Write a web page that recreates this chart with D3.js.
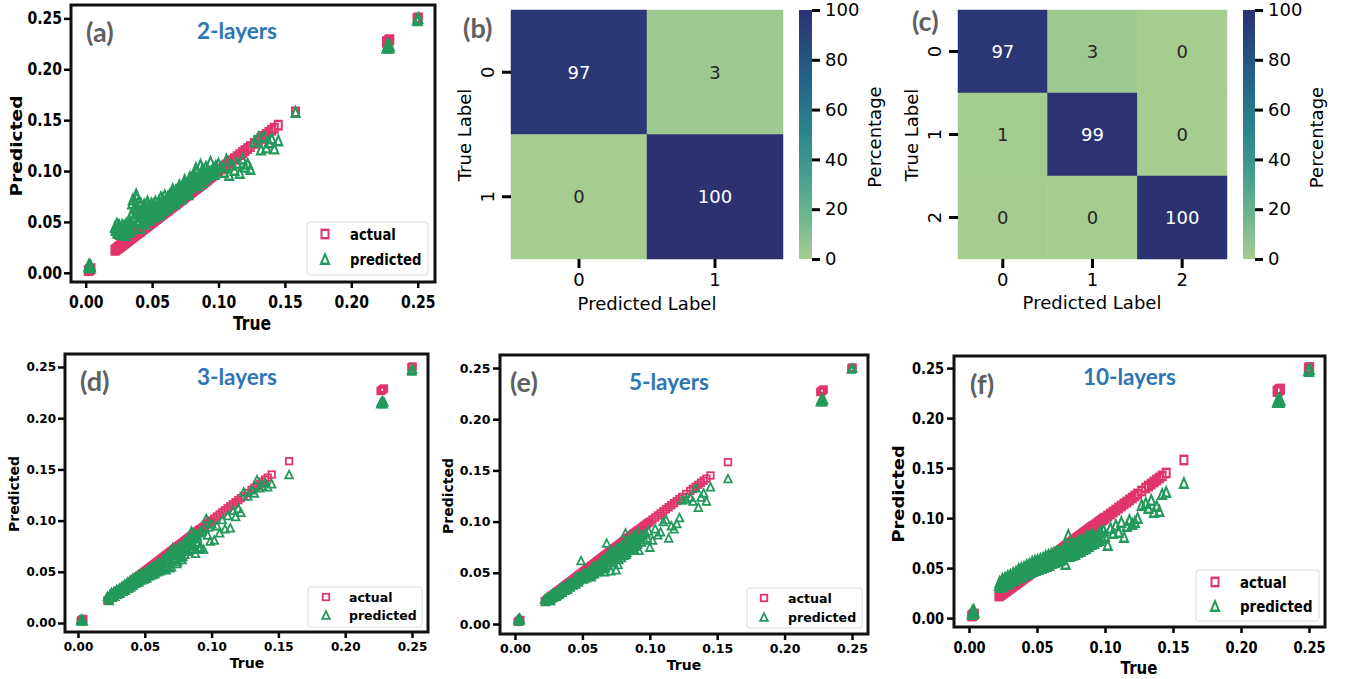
<!DOCTYPE html>
<html>
<head>
<meta charset="utf-8">
<script src="https://cdn.jsdelivr.net/npm/d3@7"></script>
<style>
body { margin: 0; background: #fff; }
svg text { font-family: "DejaVu Sans", sans-serif; }
</style>
</head>
<body>
<script>
// valeurs (True = actual)
const trueVals = [
    0.002, 0.0025, 0.003, 0.0035, 0.004,
    0.022, 0.024, 0.025, 0.026, 0.027, 0.028, 0.029, 0.030, 0.031, 0.032,
    0.033, 0.034, 0.035, 0.036, 0.037, 0.038, 0.039, 0.040, 0.041, 0.042,
    0.043, 0.044, 0.045, 0.046, 0.047, 0.048, 0.049, 0.050, 0.051, 0.052,
    0.053, 0.054, 0.055, 0.056, 0.057, 0.058, 0.059, 0.060, 0.061, 0.062,
    0.063, 0.064, 0.065, 0.066, 0.067, 0.068, 0.069, 0.070, 0.071, 0.072,
    0.073, 0.074, 0.075, 0.076, 0.077, 0.078, 0.079, 0.080, 0.081, 0.082,
    0.083, 0.084, 0.085, 0.086, 0.087, 0.088, 0.089, 0.090, 0.091, 0.092,
    0.093, 0.094, 0.095, 0.096, 0.097, 0.098, 0.099, 0.100,
    0.102, 0.104, 0.106, 0.108, 0.110, 0.112, 0.114, 0.116, 0.118, 0.120,
    0.122, 0.124, 0.127, 0.130, 0.132, 0.134, 0.136, 0.138, 0.140, 0.142, 0.145,
    0.158, 0.2265, 0.227, 0.2275, 0.228, 0.2285, 0.229, 0.2495, 0.250, 0.2505
]
// deuxième série d'échantillons dans la zone dense
const trueVals2 = [
    0.0225, 0.0235, 0.0245, 0.0255, 0.0265, 0.0275, 0.0285, 0.0295, 0.0305, 0.0315,
    0.0325, 0.0335, 0.0345, 0.0355, 0.0365, 0.0375, 0.0385, 0.0395, 0.0405, 0.0415,
    0.0425, 0.0435, 0.0445, 0.0455, 0.0465, 0.0475, 0.0485, 0.0495, 0.0505, 0.0515,
    0.0525, 0.0535, 0.0545, 0.0555, 0.0565, 0.0575, 0.0585, 0.0595, 0.0605, 0.0615,
    0.0625, 0.0635, 0.0645, 0.0655, 0.0665, 0.0675, 0.0685, 0.0695, 0.0705, 0.0715,
    0.0725, 0.0735, 0.0745, 0.0755, 0.0765, 0.0775, 0.0785, 0.0795, 0.0805, 0.0815,
    0.0825, 0.0835, 0.0845, 0.0855, 0.0865, 0.0875, 0.0885, 0.0895, 0.0905, 0.0915
]

// prédictions 2 couches
const predA = [
    0.006, 0.008, 0.005, 0.007, 0.006,
    0.045, 0.040, 0.047, 0.038, 0.043, 0.040, 0.046, 0.037, 0.044, 0.040,
    0.047, 0.041, 0.068, 0.045, 0.063, 0.077, 0.050, 0.070, 0.044, 0.062,
    0.055, 0.067, 0.048, 0.060, 0.066, 0.053, 0.063, 0.058, 0.067, 0.055,
    0.065, 0.060, 0.070, 0.058, 0.066, 0.073, 0.062, 0.070, 0.065, 0.075,
    0.067, 0.072, 0.078, 0.069, 0.076, 0.081, 0.072, 0.079, 0.084, 0.076,
    0.082, 0.088, 0.079, 0.086, 0.082, 0.090, 0.084, 0.088, 0.093, 0.086,
    0.103, 0.091, 0.089, 0.095, 0.092, 0.102, 0.093, 0.097, 0.094, 0.100,
    0.096, 0.109, 0.099, 0.103, 0.097, 0.105, 0.100, 0.107,
    0.104, 0.099, 0.111, 0.096, 0.106, 0.101, 0.108, 0.098, 0.112, 0.104,
    0.107, 0.102, 0.129, 0.133, 0.121, 0.134, 0.123, 0.128, 0.132, 0.122, 0.130,
    0.158, 0.221, 0.223, 0.222, 0.224, 0.221, 0.223, 0.249, 0.248, 0.250
]
const predA2 = [
    0.042, 0.048, 0.039, 0.045, 0.041, 0.047, 0.039, 0.044, 0.048, 0.042,
    0.044, 0.050, 0.058, 0.072, 0.055, 0.066, 0.074, 0.060, 0.052, 0.068,
    0.060, 0.050, 0.064, 0.056, 0.070, 0.059, 0.052, 0.068, 0.061, 0.064,
    0.070, 0.063, 0.057, 0.068, 0.074, 0.061, 0.067, 0.076, 0.069, 0.072,
    0.064, 0.077, 0.071, 0.082, 0.073, 0.068, 0.080, 0.075, 0.086, 0.078,
    0.073, 0.085, 0.091, 0.080, 0.088, 0.077, 0.094, 0.084, 0.087, 0.097,
    0.091, 0.100, 0.086, 0.094, 0.106, 0.089, 0.098, 0.092, 0.104, 0.096
]

// prédictions 3 couches
const predD = [
    0.003, 0.002, 0.004, 0.003, 0.002,
    0.026, 0.028, 0.030, 0.027, 0.031, 0.029, 0.033, 0.030, 0.034, 0.031,
    0.036, 0.033, 0.038, 0.034, 0.040, 0.036, 0.042, 0.037, 0.044, 0.039,
    0.045, 0.041, 0.047, 0.042, 0.048, 0.044, 0.049, 0.045, 0.051, 0.046,
    0.052, 0.048, 0.054, 0.049, 0.055, 0.050, 0.057, 0.051, 0.058, 0.053,
    0.060, 0.055, 0.062, 0.052, 0.064, 0.058, 0.066, 0.055, 0.074, 0.062,
    0.068, 0.058, 0.070, 0.064, 0.072, 0.062, 0.074, 0.067, 0.077, 0.070,
    0.082, 0.072, 0.090, 0.075, 0.083, 0.068, 0.086, 0.078, 0.088, 0.074,
    0.090, 0.072, 0.093, 0.102, 0.086, 0.094, 0.080, 0.097,
    0.081, 0.095, 0.088, 0.101, 0.092, 0.105, 0.093, 0.110, 0.104, 0.112,
    0.108, 0.128, 0.124, 0.130, 0.127, 0.140, 0.132, 0.134, 0.137, 0.133, 0.136,
    0.145, 0.214, 0.216, 0.215, 0.217, 0.214, 0.216, 0.247, 0.246, 0.248
]
const predD2 = [
    0.024, 0.022, 0.027, 0.025, 0.029, 0.026, 0.031, 0.028, 0.032, 0.029,
    0.034, 0.031, 0.036, 0.032, 0.038, 0.034, 0.040, 0.035, 0.042, 0.037,
    0.043, 0.039, 0.045, 0.040, 0.046, 0.042, 0.047, 0.043, 0.049, 0.044,
    0.050, 0.046, 0.053, 0.047, 0.056, 0.048, 0.057, 0.050, 0.059, 0.051,
    0.057, 0.062, 0.053, 0.064, 0.056, 0.067, 0.054, 0.069, 0.060, 0.071,
    0.063, 0.072, 0.060, 0.075, 0.066, 0.076, 0.065, 0.079, 0.071, 0.080,
    0.070, 0.081, 0.076, 0.084, 0.072, 0.087, 0.079, 0.083, 0.073, 0.089
]

// prédictions 5 couches
const predE = [
    0.004, 0.005, 0.003, 0.006, 0.004,
    0.024, 0.026, 0.023, 0.028, 0.025, 0.030, 0.027, 0.031, 0.028, 0.033,
    0.030, 0.035, 0.031, 0.037, 0.033, 0.038, 0.034, 0.040, 0.036, 0.041,
    0.038, 0.043, 0.039, 0.045, 0.041, 0.046, 0.062, 0.048, 0.044, 0.049,
    0.045, 0.051, 0.047, 0.052, 0.048, 0.054, 0.049, 0.055, 0.051, 0.057,
    0.052, 0.059, 0.054, 0.060, 0.055, 0.079, 0.057, 0.064, 0.052, 0.066,
    0.060, 0.068, 0.053, 0.069, 0.063, 0.071, 0.065, 0.073, 0.067, 0.089,
    0.070, 0.077, 0.072, 0.079, 0.074, 0.081, 0.076, 0.083, 0.078, 0.072,
    0.085, 0.080, 0.087, 0.082, 0.089, 0.084, 0.091, 0.075,
    0.082, 0.093, 0.087, 0.090, 0.100, 0.102, 0.084, 0.096, 0.093, 0.098,
    0.104, 0.121, 0.122, 0.124, 0.120, 0.133, 0.114, 0.124, 0.128, 0.120, 0.134,
    0.142, 0.217, 0.219, 0.218, 0.220, 0.217, 0.219, 0.249, 0.250, 0.250
]
const predE2 = [
    0.022, 0.025, 0.024, 0.026, 0.023, 0.028, 0.026, 0.029, 0.027, 0.031,
    0.029, 0.033, 0.032, 0.035, 0.033, 0.036, 0.035, 0.038, 0.037, 0.039,
    0.040, 0.041, 0.044, 0.042, 0.047, 0.043, 0.046, 0.045, 0.050, 0.046,
    0.047, 0.050, 0.049, 0.053, 0.046, 0.055, 0.050, 0.057, 0.053, 0.058,
    0.054, 0.061, 0.056, 0.063, 0.051, 0.066, 0.058, 0.068, 0.060, 0.070,
    0.062, 0.072, 0.064, 0.074, 0.058, 0.075, 0.068, 0.078, 0.070, 0.080,
    0.068, 0.080, 0.074, 0.082, 0.078, 0.086, 0.073, 0.088, 0.080, 0.090
]

// prédictions 10 couches
const predF = [
    0.005, 0.007, 0.004, 0.008, 0.006,
    0.033, 0.036, 0.032, 0.038, 0.034, 0.039, 0.035, 0.041, 0.037, 0.042,
    0.038, 0.044, 0.040, 0.045, 0.041, 0.047, 0.042, 0.048, 0.044, 0.049,
    0.045, 0.051, 0.046, 0.052, 0.047, 0.053, 0.048, 0.055, 0.049, 0.056,
    0.050, 0.057, 0.051, 0.058, 0.052, 0.059, 0.053, 0.060, 0.055, 0.061,
    0.056, 0.062, 0.057, 0.063, 0.058, 0.064, 0.059, 0.066, 0.054, 0.067,
    0.083, 0.062, 0.068, 0.063, 0.070, 0.064, 0.071, 0.066, 0.073, 0.067,
    0.074, 0.069, 0.076, 0.070, 0.077, 0.072, 0.079, 0.074, 0.081, 0.075,
    0.082, 0.077, 0.084, 0.078, 0.086, 0.080, 0.088, 0.082,
    0.073, 0.090, 0.085, 0.093, 0.086, 0.096, 0.081, 0.092, 0.098, 0.094,
    0.096, 0.100, 0.113, 0.115, 0.110, 0.118, 0.106, 0.112, 0.107, 0.124, 0.126,
    0.135, 0.216, 0.218, 0.217, 0.219, 0.216, 0.218, 0.248, 0.247, 0.249
]
const predF2 = [
    0.036, 0.031, 0.039, 0.034, 0.040, 0.036, 0.042, 0.037, 0.043, 0.039,
    0.045, 0.041, 0.046, 0.043, 0.049, 0.044, 0.050, 0.045, 0.051, 0.047,
    0.053, 0.048, 0.054, 0.049, 0.056, 0.050, 0.057, 0.052, 0.058, 0.053,
    0.059, 0.054, 0.060, 0.055, 0.062, 0.056, 0.063, 0.057, 0.064, 0.058,
    0.065, 0.060, 0.066, 0.061, 0.067, 0.062, 0.068, 0.063, 0.070, 0.064,
    0.071, 0.066, 0.072, 0.067, 0.074, 0.068, 0.075, 0.070, 0.076, 0.071,
    0.078, 0.072, 0.079, 0.074, 0.081, 0.075, 0.082, 0.077, 0.084, 0.078
]

const axisTicks = [0, 0.05, 0.10, 0.15, 0.20, 0.25]

// matrices de confusion (%)
const labels2 = ['0', '1']
const labels3 = ['0', '1', '2']
const cmB = [[97, 3], [0, 100]]
const cmC = [[97, 3, 0], [1, 99, 0], [0, 0, 100]]
const cbTicks = [0, 20, 40, 60, 80, 100]

// palette "crest"
const crest = ['#a5cd90', '#57ab8f', '#2a878c', '#235e85', '#2c3172']

const RED = '#e0356b'
const GREEN = '#23995a'
const GRAY = '#606060'
const BLUE = '#2e75b6'

const W = 1346, H = 679
const svg = d3.select('body').append('svg')
    .attr('width', W)
    .attr('height', H)
svg.append('rect').attr('width', W).attr('height', H).attr('fill', '#fff')
const defs = svg.append('defs')

const triangle = (cx, cy, h) => `M${cx},${cy - h}L${cx + h},${cy + h}L${cx - h},${cy + h}Z`
const allTrue = trueVals.concat(trueVals2)

// Graphe nuage de points (les panneaux a et f sont étirés verticalement)
function scatterPanel(c, pred) {
    const top = c.frame.t
    const Y = v => (v - top) / c.sy
    const g = svg.append('g').attr('transform', `translate(0,${top}) scale(1,${c.sy})`)

    const x = d3.scaleLinear().domain([0, 0.25]).range([c.x0, c.x25])
    const y = d3.scaleLinear().domain([0, 0.25]).range([Y(c.y0), Y(c.y25)])
    const fb = Y(c.frame.b)

    // actual
    g.append('g').selectAll('rect')
        .data(allTrue)
        .join('rect')
        .attr('x', d => x(d) - c.ms / 2)
        .attr('y', d => y(d) - c.ms / 2)
        .attr('width', c.ms)
        .attr('height', c.ms)
        .attr('fill', 'none')
        .attr('stroke', RED)
        .attr('stroke-width', c.sw)

    // predicted
    g.append('g').selectAll('path')
        .data(allTrue)
        .join('path')
        .attr('d', (d, i) => triangle(x(d), y(pred[i]), c.ts))
        .attr('fill', 'none')
        .attr('stroke', GREEN)
        .attr('stroke-width', c.sw)

    // axes
    const ax = g.append('g')
        .attr('transform', `translate(0,${fb})`)
        .call(d3.axisBottom(x).tickValues(axisTicks).tickFormat(d3.format('.2f'))
            .tickSize(c.xTick).tickPadding(c.padX))
    const ay = g.append('g')
        .attr('transform', `translate(${c.frame.l},0)`)
        .call(d3.axisLeft(y).tickValues(axisTicks).tickFormat(d3.format('.2f'))
            .tickSize(c.yTick).tickPadding(c.padY))
    for (const a of [ax, ay]) {
        a.select('.domain').remove()
        a.attr('font-size', c.fs).attr('font-family', 'DejaVu Sans').attr('font-weight', 'bold')
        a.selectAll('line')
            .attr('stroke', '#000')
            .attr('stroke-width', 2.5)
            .attr('vector-effect', 'non-scaling-stroke')
        a.selectAll('text').attr('fill', '#000')
    }

    // cadre
    g.append('rect')
        .attr('x', c.frame.l)
        .attr('y', 0)
        .attr('width', c.frame.r - c.frame.l)
        .attr('height', fb)
        .attr('fill', 'none')
        .attr('stroke', '#111')
        .attr('stroke-width', 3)
        .attr('vector-effect', 'non-scaling-stroke')

    // titres des axes
    g.append('text')
        .attr('x', c.xl[0]).attr('y', Y(c.xl[1]))
        .attr('dy', '0.36em')
        .attr('text-anchor', 'middle')
        .attr('font-weight', 'bold')
        .attr('font-size', c.lfs)
        .text('True')
    g.append('text')
        .attr('transform', `translate(${c.yl[0]},${Y(c.yl[1])}) rotate(-90)`)
        .attr('dy', '0.36em')
        .attr('text-anchor', 'middle')
        .attr('font-weight', 'bold')
        .attr('font-size', c.lfs)
        .text('Predicted')

    // légende
    const lg = c.legend
    g.append('rect')
        .attr('x', lg.l).attr('y', Y(lg.t))
        .attr('width', lg.r - lg.l).attr('height', Y(lg.b) - Y(lg.t))
        .attr('rx', 3)
        .attr('fill', '#fff').attr('fill-opacity', 0.8)
        .attr('stroke', '#dcdcdc').attr('stroke-width', 1)
        .attr('vector-effect', 'non-scaling-stroke')
    g.append('rect')
        .attr('x', lg.mx - c.ms / 2).attr('y', Y(lg.y1) - c.ms / 2)
        .attr('width', c.ms).attr('height', c.ms)
        .attr('fill', 'none').attr('stroke', RED).attr('stroke-width', c.sw)
    g.append('path')
        .attr('d', triangle(lg.mx, Y(lg.y2), c.ts))
        .attr('fill', 'none').attr('stroke', GREEN).attr('stroke-width', c.sw)
    g.append('text')
        .attr('x', lg.tx).attr('y', Y(lg.y1)).attr('dy', '0.36em')
        .attr('font-weight', 'bold').attr('font-size', lg.fs)
        .text('actual')
    g.append('text')
        .attr('x', lg.tx).attr('y', Y(lg.y2)).attr('dy', '0.36em')
        .attr('font-weight', 'bold').attr('font-size', lg.fs)
        .text('predicted')
}

// Matrice de confusion
const color = d3.scaleSequential(d3.piecewise(d3.interpolateRgb, crest)).domain([0, 100])

function heatPanel(c, m, labels) {
    const g = svg.append('g')
    const x = d3.scaleBand().domain(labels).range([c.l, c.r])
    const y = d3.scaleBand().domain(labels).range([c.t, c.b])
    const cells = m.flatMap((row, i) => row.map((v, j) => ({ i, j, v })))

    g.selectAll('rect.cell')
        .data(cells)
        .join('rect')
        .attr('class', 'cell')
        .attr('x', d => x(labels[d.j]))
        .attr('y', d => y(labels[d.i]))
        .attr('width', x.bandwidth())
        .attr('height', y.bandwidth())
        .attr('fill', d => color(d.v))
        .attr('stroke', d => color(d.v))
        .attr('stroke-width', 0.5)

    g.selectAll('text.ann')
        .data(cells)
        .join('text')
        .attr('class', 'ann')
        .attr('x', d => x(labels[d.j]) + x.bandwidth() / 2)
        .attr('y', d => y(labels[d.i]) + y.bandwidth() / 2)
        .attr('dy', '0.36em')
        .attr('text-anchor', 'middle')
        .attr('font-size', 18)
        .attr('fill', d => d.v > 50 ? '#fff' : '#262626')
        .text(d => d.v)

    const ax = g.append('g')
        .attr('transform', `translate(0,${c.b})`)
        .call(d3.axisBottom(x).tickSize(9).tickPadding(5.5))
    const ay = g.append('g')
        .attr('transform', `translate(${c.l},0)`)
        .call(d3.axisLeft(y).tickSize(9))
    ay.selectAll('text')
        .attr('x', null)
        .attr('dy', '0.36em')
        .attr('text-anchor', 'middle')
        .attr('transform', 'translate(-23,0) rotate(-90)')

    // barre de couleur
    const grad = defs.append('linearGradient')
        .attr('id', c.id)
        .attr('x1', 0).attr('y1', 1).attr('x2', 0).attr('y2', 0)
    grad.selectAll('stop')
        .data(d3.range(0, 101, 10))
        .join('stop')
        .attr('offset', d => d / 100)
        .attr('stop-color', d => color(d))
    g.append('rect')
        .attr('x', c.cbL).attr('y', c.t)
        .attr('width', c.cbR - c.cbL).attr('height', c.b - c.t)
        .attr('fill', `url(#${c.id})`)
    const cb = d3.scaleLinear().domain([0, 100]).range([c.b, c.t])
    const acb = g.append('g')
        .attr('transform', `translate(${c.cbR},0)`)
        .call(d3.axisRight(cb).tickValues(cbTicks).tickSize(8).tickPadding(5))

    for (const a of [ax, ay, acb]) {
        a.select('.domain').remove()
        a.attr('font-size', 18).attr('font-family', 'DejaVu Sans')
        a.selectAll('line').attr('stroke', '#000').attr('stroke-width', 3)
        a.selectAll('text').attr('fill', '#000')
    }

    g.append('text')
        .attr('transform', `translate(${c.tl[0]},${c.tl[1]}) rotate(-90)`)
        .attr('dy', '0.36em').attr('text-anchor', 'middle').attr('font-size', 18)
        .text('True Label')
    g.append('text')
        .attr('x', c.pl[0]).attr('y', c.pl[1])
        .attr('dy', '0.36em').attr('text-anchor', 'middle').attr('font-size', 18)
        .text('Predicted Label')
    g.append('text')
        .attr('transform', `translate(${c.pc[0]},${c.pc[1]}) rotate(-90)`)
        .attr('dy', '0.36em').attr('text-anchor', 'middle').attr('font-size', 18)
        .text('Percentage')
}

scatterPanel({
    frame: { l: 71, t: 5, r: 435, b: 282 }, sy: 1.2,
    x0: 85.7, x25: 417.7, y0: 272.7, y25: 18.3,
    fs: 14, xTick: 5, padX: 6.4, yTick: 7, padY: 2, lfs: 15.5,
    xl: [252, 323], yl: [16.5, 146],
    ms: 7, ts: 4, sw: 2,
    legend: { l: 307, t: 222, r: 428, b: 275, mx: 325, y1: 234, y2: 259, tx: 350, fs: 13.2 }
}, predA.concat(predA2))

scatterPanel({
    frame: { l: 65, t: 354, r: 428, b: 632 }, sy: 1,
    x0: 78, x25: 412, y0: 623, y25: 367,
    fs: 12, xTick: 6, padX: 4.5, yTick: 7, padY: 2, lfs: 14,
    xl: [247, 663], yl: [13.5, 494],
    ms: 6.5, ts: 3.8, sw: 1.8,
    legend: { l: 308, t: 587, r: 422, b: 627, mx: 326, y1: 597, y2: 615, tx: 349, fs: 12.5 }
}, predD.concat(predD2))

scatterPanel({
    frame: { l: 500, t: 355, r: 868, b: 634 }, sy: 1,
    x0: 515, x25: 852, y0: 624, y25: 368,
    fs: 12.5, xTick: 6, padX: 4.6, yTick: 7, padY: 2.5, lfs: 14,
    xl: [684, 665], yl: [448, 496],
    ms: 6.5, ts: 3.8, sw: 1.8,
    legend: { l: 747, t: 588, r: 862, b: 628, mx: 764, y1: 598, y2: 617, tx: 788, fs: 12.6 }
}, predE.concat(predE2))

scatterPanel({
    frame: { l: 954, t: 356, r: 1325, b: 627 }, sy: 1.2,
    x0: 969, x25: 1309, y0: 618, y25: 368,
    fs: 13, xTick: 5, padX: 7.2, yTick: 7, padY: 3, lfs: 15,
    xl: [1139, 667.5], yl: [899, 494],
    ms: 7, ts: 4, sw: 2,
    legend: { l: 1196, t: 570, r: 1319, b: 621, mx: 1215, y1: 582, y2: 606, tx: 1240, fs: 13.4 }
}, predF.concat(predF2))

heatPanel({
    id: 'cbB', l: 511, r: 783, t: 10, b: 259, cbL: 799, cbR: 812,
    tl: [465, 135], pl: [647, 303.5], pc: [875, 137]
}, cmB, labels2)

heatPanel({
    id: 'cbC', l: 958, r: 1227, t: 10, b: 259, cbL: 1243, cbR: 1255,
    tl: [911.7, 135], pl: [1092, 303], pc: [1317, 137.5]
}, cmC, labels3)

// lettres et titres des panneaux
const panelTexts = [
    { t: '(a)', x: 86, y: 33, fs: 27, fill: GRAY },
    { t: '2-layers', x: 197, y: 31, fs: 22.5, fill: BLUE },
    { t: '(b)', x: 463, y: 29, fs: 27, fill: GRAY },
    { t: '(c)', x: 912, y: 22, fs: 27, fill: GRAY },
    { t: '(d)', x: 80, y: 382, fs: 27, fill: GRAY },
    { t: '3-layers', x: 197, y: 377, fs: 22.5, fill: BLUE },
    { t: '(e)', x: 510, y: 383, fs: 27, fill: GRAY },
    { t: '5-layers', x: 629, y: 382, fs: 22.5, fill: BLUE },
    { t: '(f)', x: 970, y: 385, fs: 27, fill: GRAY },
    { t: '10-layers', x: 1083, y: 377, fs: 22.5, fill: BLUE }
]
svg.append('g').selectAll('text')
    .data(panelTexts)
    .join('text')
    .attr('x', d => d.x)
    .attr('y', d => d.y)
    .attr('dy', '0.35em')
    .style('font-family', 'Lato, sans-serif')
    .attr('font-weight', 'bold')
    .attr('font-size', d => d.fs)
    .attr('fill', d => d.fill)
    .text(d => d.t)
</script>
</body>
</html>
